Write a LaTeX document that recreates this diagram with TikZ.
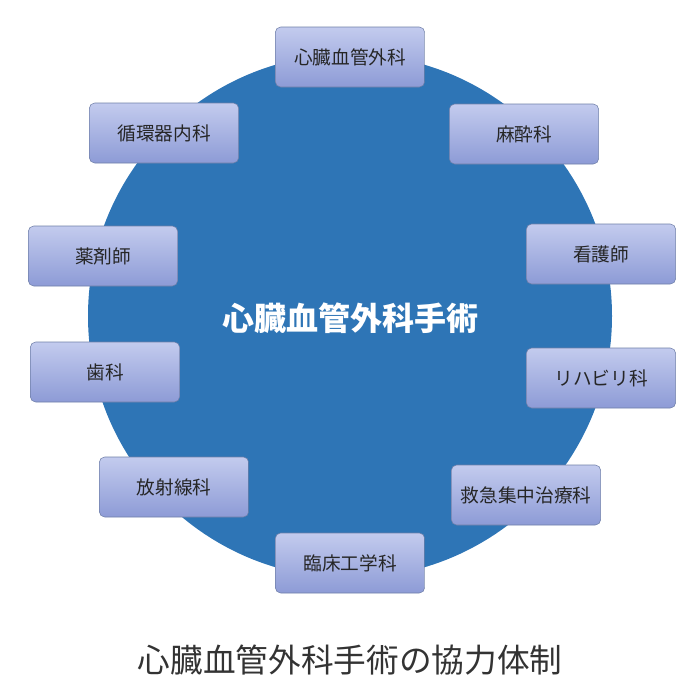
\documentclass[tikz,border=0pt]{standalone}
\usepackage{fontspec}
\setmainfont{Noto Sans CJK JP}
\usepackage{tikz}
\usetikzlibrary{positioning}
\definecolor{hubblue}{HTML}{2E75B6}
\definecolor{boxtop}{HTML}{C3CBEE}
\definecolor{boxbot}{HTML}{8D9BD6}
\definecolor{boxline}{HTML}{6F7FA8}

\begin{document}
\begin{tikzpicture}[x=0.75pt,y=-0.75pt,
  dept/.style={draw=boxline, rounded corners=4pt, top color=boxtop, bottom color=boxbot,
    minimum width=112pt, minimum height=45pt, font=\fontsize{14}{16}\selectfont, text=black!85}]

  % Canvas
  \useasboundingbox (0,0) rectangle (700,700);

  % Hub
  \fill[hubblue] (350,316) circle (262);
  \node[text=white, font=\bfseries\fontsize{24}{28}\selectfont] (hub) at (350,318) {心臓血管外科手術};

  % Departments
  \node[dept] (cvs) at (350,57) {心臓血管外科};
  \node[dept] (anes) at (524,134) {麻酔科};
  \node[dept] (nurse) at (601,254) {看護師};
  \node[dept] (rehab) at (601,378) {リハビリ科};
  \node[dept] (icu) at (526,495) {救急集中治療科};
  \node[dept] (ce) at (350,563) {臨床工学科};
  \node[dept] (rad) at (174,487) {放射線科};
  \node[dept] (dent) at (105,372) {歯科};
  \node[dept] (pharm) at (103,256) {薬剤師};
  \node[dept] (cardio) at (164,133) {循環器内科};

  % Caption
  \node[font=\fontsize{24.5}{28}\selectfont, text=black!80] (cap) at (350,660) {心臓血管外科手術の協力体制};

\end{tikzpicture}
\end{document}
